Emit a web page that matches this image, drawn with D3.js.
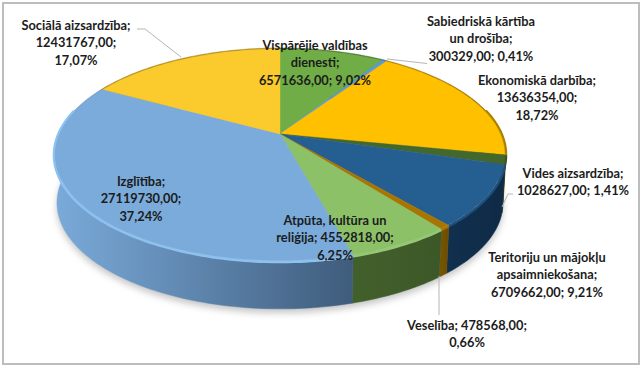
<!DOCTYPE html>
<html><head><meta charset="utf-8">
<script src="https://cdn.jsdelivr.net/npm/d3@7"></script>
<style>html,body{margin:0;padding:0;background:#fff}svg{display:block}text{font-family:Lato,"Open Sans",sans-serif;font-weight:700;font-size:12.8px;fill:#1c1c1c;text-anchor:middle}</style>
</head><body><div id="c"></div><script>
const categories=["Vispārējie valdības dienesti","Sabiedriskā kārtība un drošība","Ekonomiskā darbība","Vides aizsardzība","Teritoriju un mājokļu apsaimniekošana","Veselība","Atpūta, kultūra un reliģija","Izglītība","Sociālā aizsardzība"];
const values=[6571636,300329,13636354,1028627,6709662,478568,4552818,27119730,12431767];
const topColors=["#70ad47","#5b9bd5","#ffc000","#43682b","#255e91","#a87600","#8cc168","#7aabdb","#fbca2c"];
const rimColors=["#70ad47","#5b9bd5","#a98000","#38562a","#1f4f7a","#a87600","#94c972","#8cc2f2","#fbca2c"];
const sideLeft=["#4a7230","#3b6f9f","#a87f00","#2b431a","#11304e","#7a5600","#42602c","#7aaad9","#a8861c"];
const sideRight=["#4a7230","#3b6f9f","#8a6800","#2b431a","#0e2a46","#6e4e00","#3d5828","#3f5c7c","#a8861c"];
const labelLines=[["Vispārējie valdības","dienesti;","6571636,00; 9,02%"],["Sabiedriskā kārtība","un drošība;","300329,00; 0,41%"],["Ekonomiskā darbība;","13636354,00;","18,72%"],["Vides aizsardzība;","1028627,00; 1,41%"],["Teritoriju un mājokļu","apsaimniekošana;","6709662,00; 9,21%"],["Veselība; 478568,00;","0,66%"],["Atpūta, kultūra un","reliģija; 4552818,00;","6,25%"],["Izglītība;","27119730,00;","37,24%"],["Sociālā aizsardzība;","12431767,00;","17,07%"]];
const labelCenterX=[315,481,537,573,547,467,335,141,76];
const labelFirstY=[45,21,80,173,257,325,220,181,25];
const leaders=[null,[[387,59],[427,63.5]],null,[[513,194],[508,194],[502,207]],null,[[439,276],[439,315]],null,null,[[137,29],[145,29],[181,57]]];

const W=643,H=368,k=0.196,cx=280;
const topDisc={rx:221.6,b:102.9,cy:134},botDisc={rx:218.7,b:102,cy:182};
const project=(a,d)=>{const u=Math.sin(a),v=-Math.cos(a),w=1-k*v;return [cx+d.rx*u/w,d.cy+d.b*v/w];};
const samples=(a0,a1)=>{const n=Math.max(2,Math.ceil((a1-a0)/0.02));return d3.range(n+1).map(i=>a0+(a1-a0)*i/n);};
const frontOnly=(a0,a1)=>samples(a0,a1).filter(a=>-Math.cos(a)>-0.25);
const arcs=d3.pie().sort(null).startAngle(0).endAngle(2*Math.PI).value(d=>d)(values);
const line=d3.line();
const svg=d3.select("#c").append("svg").attr("width",W).attr("height",H);
const defs=svg.append("defs");
defs.append("filter").attr("id","sh").attr("x","-10%").attr("y","-10%").attr("width","120%").attr("height","120%").append("feGaussianBlur").attr("stdDeviation",3.5);
defs.append("filter").attr("id","soft").attr("x","-5%").attr("y","-5%").attr("width","110%").attr("height","110%").append("feGaussianBlur").attr("stdDeviation",0.6);
arcs.forEach((s,i)=>{
  const xs=samples(s.startAngle,s.endAngle).map(a=>project(a,botDisc)[0]);
  const g=defs.append("linearGradient").attr("id","side"+i).attr("gradientUnits","userSpaceOnUse")
    .attr("x1",d3.min(xs)).attr("x2",d3.max(xs)+0.1).attr("y1",0).attr("y2",0);
  g.append("stop").attr("offset",0).attr("stop-color",sideLeft[i]);
  g.append("stop").attr("offset",1).attr("stop-color",sideRight[i]);
});
svg.append("rect").attr("x",3).attr("y",3).attr("width",636).attr("height",361).attr("fill","#fff").attr("stroke","#bdbdbd").attr("stroke-width",2);
svg.append("path").attr("d",line(samples(0,2*Math.PI).map(a=>project(a,botDisc)))+"Z").attr("transform","translate(0,4)").attr("fill","#8a8a8a").attr("opacity",.5).attr("filter","url(#sh)");
svg.append("g").selectAll("path").data(arcs).join("path").attr("d",s=>{
  const as=samples(s.startAngle,s.endAngle);
  return line(as.map(a=>project(a,topDisc)).concat(as.slice().reverse().map(a=>project(a,botDisc))))+"Z";
}).attr("fill",(s,i)=>`url(#side${i})`).attr("stroke",(s,i)=>`url(#side${i})`).attr("stroke-width",.5);
const apex=[cx,topDisc.cy];
svg.append("g").attr("filter","url(#soft)").selectAll("path").data(arcs).join("path").attr("d",s=>{
  const pts=frontOnly(s.startAngle,s.endAngle).map(a=>project(a,topDisc));
  return pts.length>1?line(pts):null;
}).attr("fill","none").attr("stroke",(s,i)=>rimColors[i]).attr("stroke-width",2.6);
svg.append("g").selectAll("path").data(arcs).join("path").attr("d",s=>{
  const d2={rx:topDisc.rx-1.2,b:topDisc.b-1.2,cy:topDisc.cy};
  return line([apex].concat(samples(s.startAngle,s.endAngle).map(a=>project(a,d2))))+"Z";
}).attr("fill",(s,i)=>topColors[i]).attr("stroke",(s,i)=>topColors[i]).attr("stroke-width",.4);
svg.append("g").selectAll("path").data(leaders.filter(Boolean)).join("path").attr("d",d=>line(d)).attr("fill","none").attr("stroke","#b5b5b5").attr("stroke-width",1);
const lab=svg.append("g").selectAll("text").data(labelLines).join("text").attr("x",(d,i)=>labelCenterX[i]).attr("y",(d,i)=>labelFirstY[i]+4.5);
lab.selectAll("tspan").data((d,i)=>d.map(t=>({t,x:labelCenterX[i]}))).join("tspan").attr("x",d=>d.x).attr("dy",(d,j)=>j?17.5:0).text(d=>d.t);
</script></body></html>
